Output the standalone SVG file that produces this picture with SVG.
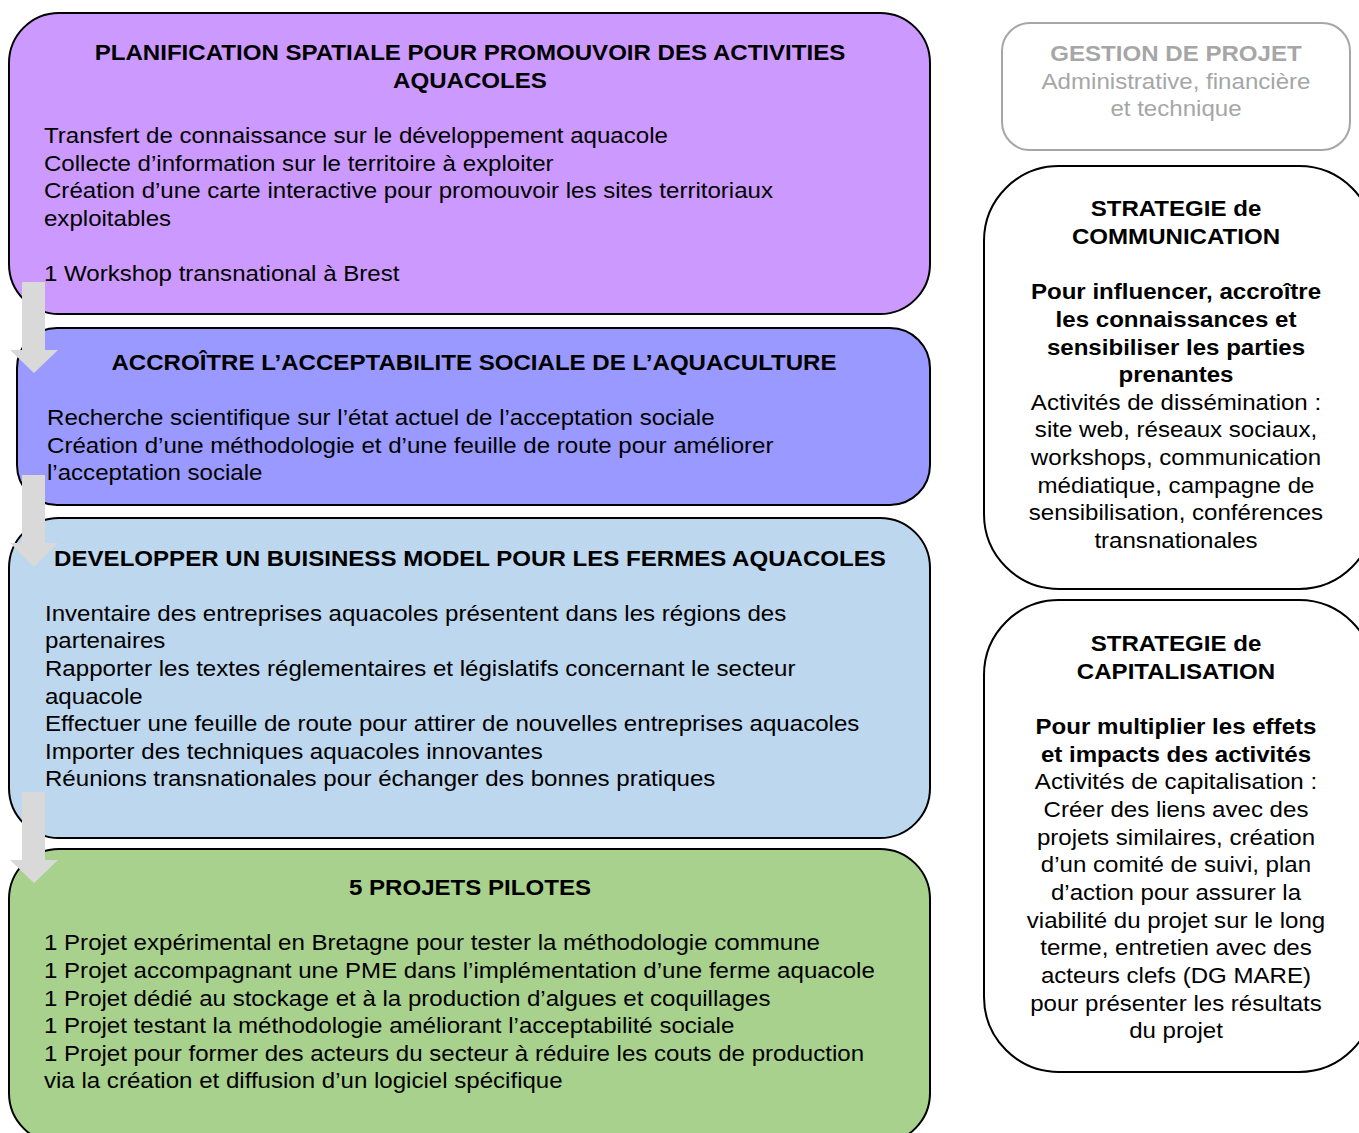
<svg xmlns="http://www.w3.org/2000/svg" width="1359" height="1133" viewBox="0 0 1359 1133">
<style>
text{font-family:"Liberation Sans",Arial,sans-serif;font-size:22px;fill:#000}
.b{font-weight:bold}
.c{text-anchor:middle}
.g{fill:#A6A6A6}
.box{stroke:#000;stroke-width:2}
.arr{fill:#D9D9D9}
</style>
<rect width="1359" height="1133" fill="#fff"/>
<g id="node-planification">
<rect class="box" x="9" y="13" width="921" height="301" rx="50" fill="#CC99FF"/>
<g transform="matrix(1.095,0,0,1,-44.65,0)">
<text class="b c" x="470" y="60">PLANIFICATION SPATIALE POUR PROMOUVOIR DES ACTIVITIES</text>
<text class="b c" x="470" y="88">AQUACOLES</text>
</g>
<g transform="matrix(1.095,0,0,1,-4.18,0)">
<text x="44" y="143">Transfert de connaissance sur le développement aquacole</text>
<text x="44" y="171">Collecte d’information sur le territoire à exploiter</text>
<text x="44" y="198">Création d’une carte interactive pour promouvoir les sites territoriaux</text>
<text x="44" y="226">exploitables</text>
<text x="44" y="281">1 Workshop transnational à Brest</text>
</g>
</g>
<g id="node-acceptabilite">
<rect class="box" x="17" y="328" width="913" height="177" rx="40" fill="#9999FF"/>
<g transform="matrix(1.095,0,0,1,-45.03,0)">
<text class="b c" x="474" y="370">ACCROÎTRE L’ACCEPTABILITE SOCIALE DE L’AQUACULTURE</text>
</g>
<g transform="matrix(1.095,0,0,1,-4.465,0)">
<text x="47" y="425">Recherche scientifique sur l’état actuel de l’acceptation sociale</text>
<text x="47" y="453">Création d’une méthodologie et d’une feuille de route pour améliorer</text>
<text x="47" y="480">l’acceptation sociale</text>
</g>
</g>
<g id="node-business">
<rect class="box" x="9" y="518" width="921" height="320" rx="50" fill="#BDD7EE"/>
<g transform="matrix(1.095,0,0,1,-44.65,0)">
<text class="b c" x="470" y="566">DEVELOPPER UN BUISINESS MODEL POUR LES FERMES AQUACOLES</text>
</g>
<g transform="matrix(1.095,0,0,1,-4.275,0)">
<text x="45" y="621">Inventaire des entreprises aquacoles présentent dans les régions des</text>
<text x="45" y="648">partenaires</text>
<text x="45" y="676">Rapporter les textes réglementaires et législatifs concernant le secteur</text>
<text x="45" y="704">aquacole</text>
<text x="45" y="731">Effectuer une feuille de route pour attirer de nouvelles entreprises aquacoles</text>
<text x="45" y="759">Importer des techniques aquacoles innovantes</text>
<text x="45" y="786">Réunions transnationales pour échanger des bonnes pratiques</text>
</g>
</g>
<g id="node-pilotes">
<rect class="box" x="9" y="849" width="921" height="294" rx="50" fill="#A9D18E"/>
<g transform="matrix(1.095,0,0,1,-44.65,0)">
<text class="b c" x="470" y="895">5 PROJETS PILOTES</text>
</g>
<g transform="matrix(1.095,0,0,1,-4.18,0)">
<text x="44" y="950">1 Projet expérimental en Bretagne pour tester la méthodologie commune</text>
<text x="44" y="978">1 Projet accompagnant une PME dans l’implémentation d’une ferme aquacole</text>
<text x="44" y="1006">1 Projet dédié au stockage et à la production d’algues et coquillages</text>
<text x="44" y="1033">1 Projet testant la méthodologie améliorant l’acceptabilité sociale</text>
<text x="44" y="1061">1 Projet pour former des acteurs du secteur à réduire les couts de production</text>
<text x="44" y="1088">via la création et diffusion d’un logiciel spécifique</text>
</g>
</g>
<g id="node-gestion">
<rect x="1002" y="23" width="348" height="127" rx="28" fill="#fff" stroke="#A6A6A6" stroke-width="2"/>
<g transform="matrix(1.095,0,0,1,-111.72,0)">
<text class="b c g" x="1176" y="61">GESTION DE PROJET</text>
<text class="c g" x="1176" y="89">Administrative, financière</text>
<text class="c g" x="1176" y="116">et technique</text>
</g>
</g>
<g id="node-communication">
<rect class="box" x="984" y="166" width="390" height="423" rx="75" fill="#fff"/>
<g transform="matrix(1.095,0,0,1,-111.72,0)">
<text class="b c" x="1176" y="216">STRATEGIE de</text>
<text class="b c" x="1176" y="244">COMMUNICATION</text>
<text class="b c" x="1176" y="299">Pour influencer, accroître</text>
<text class="b c" x="1176" y="327">les connaissances et</text>
<text class="b c" x="1176" y="355">sensibiliser les parties</text>
<text class="b c" x="1176" y="382">prenantes</text>
<text class="c" x="1176" y="410">Activités de dissémination :</text>
<text class="c" x="1176" y="437">site web, réseaux sociaux,</text>
<text class="c" x="1176" y="465">workshops, communication</text>
<text class="c" x="1176" y="493">médiatique, campagne de</text>
<text class="c" x="1176" y="520">sensibilisation, conférences</text>
<text class="c" x="1176" y="548">transnationales</text>
</g>
</g>
<g id="node-capitalisation">
<rect class="box" x="984" y="600" width="390" height="472" rx="75" fill="#fff"/>
<g transform="matrix(1.095,0,0,1,-111.72,0)">
<text class="b c" x="1176" y="651">STRATEGIE de</text>
<text class="b c" x="1176" y="679">CAPITALISATION</text>
<text class="b c" x="1176" y="734">Pour multiplier les effets</text>
<text class="b c" x="1176" y="762">et impacts des activités</text>
<text class="c" x="1176" y="789">Activités de capitalisation :</text>
<text class="c" x="1176" y="817">Créer des liens avec des</text>
<text class="c" x="1176" y="845">projets similaires, création</text>
<text class="c" x="1176" y="872">d’un comité de suivi, plan</text>
<text class="c" x="1176" y="900">d’action pour assurer la</text>
<text class="c" x="1176" y="928">viabilité du projet sur le long</text>
<text class="c" x="1176" y="955">terme, entretien avec des</text>
<text class="c" x="1176" y="983">acteurs clefs (DG MARE)</text>
<text class="c" x="1176" y="1011">pour présenter les résultats</text>
<text class="c" x="1176" y="1038">du projet</text>
</g>
</g>
<g id="connectors">
<polygon class="arr" points="22,282 45,282 45,350 58,350 34,373 10,350 22,350"/>
<polygon class="arr" points="22,475 45,475 45,543 58,543 34,567 10,543 22,543"/>
<polygon class="arr" points="22,792 45,792 45,860 58,860 34,883 10,860 22,860"/>
</g>
</svg>
